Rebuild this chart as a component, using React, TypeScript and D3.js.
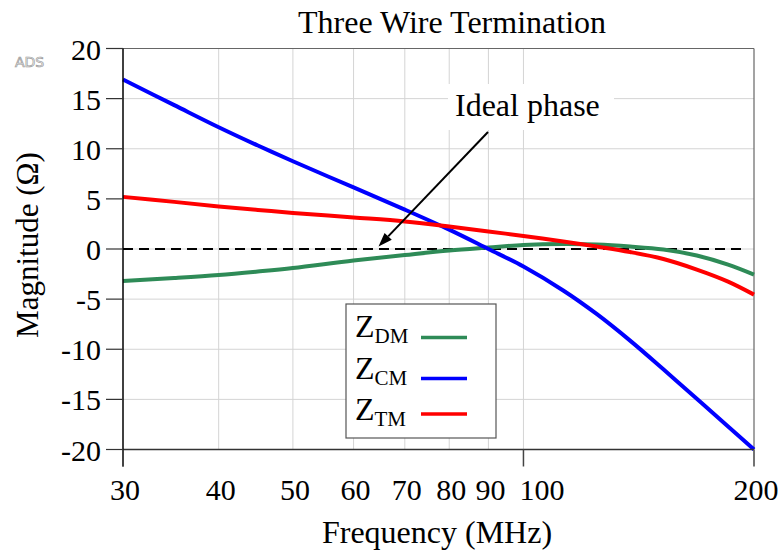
import React from "react";
import * as d3 from "d3";

const freqs = [30, 35, 40, 45, 50, 60, 70, 80, 90, 100, 112.7, 124.6, 137.8, 152.3, 168.4, 185, 200];
const zDM = [-3.2, -2.9, -2.6, -2.25, -1.9, -1.15, -0.6, -0.15, 0.15, 0.4, 0.5, 0.45, 0.25, -0.05, -0.65, -1.55, -2.55];
const zCM = [16.9, 14.35, 12.15, 10.32, 8.75, 6.14, 3.93, 1.93, 0.0, -1.75, -4.14, -6.48, -9.14, -12.0, -14.94, -17.7, -20.0];
const zTM = [5.2, 4.7, 4.25, 3.9, 3.6, 3.15, 2.75, 2.25, 1.75, 1.3, 0.75, 0.25, -0.3, -1.0, -2.05, -3.25, -4.55];

const xTicks = [30, 40, 50, 60, 70, 80, 90, 100, 200];
const xGrid = [40, 50, 60, 70, 80, 90, 100];
const xMajor = [30, 100, 200];
const yTicks = [-20, -15, -10, -5, 0, 5, 10, 15, 20];

const series = [
  { name: "DM", values: zDM, color: "#2E8B57" },
  { name: "CM", values: zCM, color: "#0000FF" },
  { name: "TM", values: zTM, color: "#FF0000" },
];

const FONT = "'Liberation Serif', 'Times New Roman', serif";

export default function App() {
  const W = 780, H = 555;
  const L = 123, R = 754, T = 48.5, B = 449.5;
  const x = d3.scaleLog().domain([30, 200]).range([L, R]);
  const y = d3.scaleLinear().domain([-20, 20]).range([B, T]);
  const line = d3.line<[number, number]>()
    .x((d) => x(d[0]))
    .y((d) => y(d[1]))
    .curve(d3.curveCatmullRom.alpha(0.5));

  const arrowStart = [488, 132];
  const arrowEnd = [378.5, 246.5];
  const ang = Math.atan2(arrowEnd[1] - arrowStart[1], arrowEnd[0] - arrowStart[0]);
  const hl = 14, hw = 5;
  const bx = arrowEnd[0] - hl * Math.cos(ang), by = arrowEnd[1] - hl * Math.sin(ang);
  const head = [
    [arrowEnd[0], arrowEnd[1]],
    [bx + hw * Math.sin(ang), by - hw * Math.cos(ang)],
    [bx - hw * Math.sin(ang), by + hw * Math.cos(ang)],
  ];

  const legendY = [337, 378.5, 420];
  const legendLineY = [337.5, 378.5, 414];

  return (
    <svg width={W} height={H} style={{ position: "absolute", left: 0, top: 0, background: "#fff" }} fontFamily={FONT}>
      <rect x={0} y={0} width={W} height={H} fill="#fff" />
      {/* grid */}
      {xGrid.map((f) => (
        <line key={"gx" + f} x1={x(f)} x2={x(f)} y1={T} y2={B} stroke="#d4d4d4" strokeWidth={1} />
      ))}
      {yTicks.map((v) => (
        <line key={"gy" + v} x1={L} x2={R} y1={y(v)} y2={y(v)} stroke="#d4d4d4" strokeWidth={1} />
      ))}
      {/* frame top/right */}
      <line x1={L} x2={R} y1={T} y2={T} stroke="#666" strokeWidth={1.2} />
      <line x1={R} x2={R} y1={T} y2={B} stroke="#666" strokeWidth={1.2} />
      {/* zero dashed */}
      <line x1={L} x2={741} y1={y(0)} y2={y(0)} stroke="#000" strokeWidth={2} strokeDasharray="10,6" />
      {/* curves */}
      {series.map((s) => (
        <path key={s.name} d={line(freqs.map((f, i) => [f, s.values[i]]) as [number, number][]) || ""}
          fill="none" stroke={s.color} strokeWidth={4} strokeLinejoin="round" />
      ))}
      {/* axes */}
      <line x1={L} x2={R} y1={B} y2={B} stroke="#333" strokeWidth={1.5} />
      <line x1={L} x2={L} y1={T} y2={B + 17} stroke="#000" strokeWidth={1.5} />
      {xMajor.map((f) => (
        <line key={"mt" + f} x1={x(f)} x2={x(f)} y1={B} y2={B + 17} stroke="#444" strokeWidth={1.5} />
      ))}
      {yTicks.map((v) => (
        <line key={"yt" + v} x1={L - 17} x2={L} y1={y(v)} y2={y(v)} stroke="#333" strokeWidth={1.2} />
      ))}
      {yTicks.map((v) => (
        <text key={"yl" + v} x={101} y={y(v) + 11} textAnchor="end" fontSize={30} fill="#000">{v}</text>
      ))}
      {xTicks.map((f) => (
        <text key={"xl" + f} x={f === 100 ? x(f) - 4 : x(f) + 2} y={500}
          textAnchor={f === 100 ? "start" : "middle"} fontSize={30} fill="#000">{f}</text>
      ))}
      {/* titles */}
      <text x={452} y={33} textAnchor="middle" fontSize={32} fill="#000">Three Wire Termination</text>
      <text x={437} y={543} textAnchor="middle" fontSize={32} fill="#000">Frequency (MHz)</text>
      <text transform="translate(38,245) rotate(-90)" textAnchor="middle" fontSize={31} fill="#000">Magnitude (Ω)</text>
      <text x={15} y={67} fontSize={14} fontFamily="'DejaVu Sans', sans-serif" fill="#fff" stroke="#999" strokeWidth={0.7}>ADS</text>
      {/* annotation */}
      <rect x={448} y={84} width={166} height={46} fill="#fff" />
      <text x={455} y={116} fontSize={32} fill="#000">Ideal phase</text>
      <line x1={arrowStart[0]} y1={arrowStart[1]} x2={bx} y2={by} stroke="#000" strokeWidth={2} />
      <polygon points={head.map((p) => p.join(",")).join(" ")} fill="#000" />
      {/* legend */}
      <rect x={346} y={304} width={150} height={134} fill="#fff" stroke="#555" strokeWidth={1.2} />
      {series.map((s, i) => (
        <g key={"lg" + s.name}>
          <text x={355} y={legendY[i]} fontSize={32} fill="#000">
            Z<tspan fontSize={21} dy={6}>{s.name}</tspan>
          </text>
          <line x1={421} x2={467} y1={legendLineY[i]} y2={legendLineY[i]} stroke={s.color} strokeWidth={3.5} />
        </g>
      ))}
    </svg>
  );
}
